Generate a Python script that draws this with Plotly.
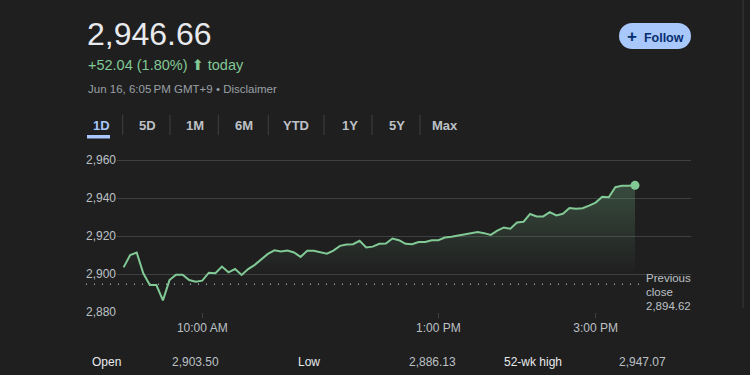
import plotly.graph_objects as go
import pandas as pd

# ---- data ----
prices = [2903.50, 2910.0, 2911.3, 2900.4, 2894.2, 2894.2, 2886.13, 2896.8, 2899.6, 2899.6,
          2896.8, 2895.9, 2896.5, 2900.7, 2900.4, 2903.9, 2900.9, 2902.6, 2899.5, 2902.6,
          2904.8, 2907.8, 2910.6, 2912.5, 2911.8, 2912.3, 2911.3, 2909.0, 2912.2, 2912.2,
          2911.6, 2910.7, 2912.3, 2914.8, 2915.5, 2915.7, 2917.5, 2914.0, 2914.4, 2915.9,
          2916.0, 2918.7, 2917.8, 2915.9, 2915.7, 2916.8, 2916.8, 2917.8, 2917.8, 2919.2,
          2919.6, 2920.3, 2921.0, 2921.3, 2922.1, 2921.5, 2920.6, 2922.8, 2924.5, 2923.8,
          2927.1, 2927.5, 2931.6, 2930.3, 2930.3, 2932.6, 2930.8, 2931.7, 2934.7, 2934.4,
          2934.6, 2936.0, 2937.6, 2940.7, 2940.4, 2945.7, 2946.4, 2946.4, 2946.66]
times = pd.date_range("2024-06-16 09:00", periods=len(prices), freq="5min")
previous_close = 2894.62
y_ticks = [2880, 2900, 2920, 2940, 2960]
x_tick_times = ["2024-06-16 10:00", "2024-06-16 13:00", "2024-06-16 15:00"]
x_tick_labels = ["10:00 AM", "1:00 PM", "3:00 PM"]
tabs = ["1D", "5D", "1M", "6M", "YTD", "1Y", "5Y", "Max"]
stats_labels = ["Open", "Low", "52-wk high"]
stats_values = ["2,903.50", "2,886.13", "2,947.07"]

BG = "#1f1f1f"
GREEN = "#81c995"
GRID = "#3c4043"
FONT = "Liberation Sans, Arial, sans-serif"

L, R, T, B = 117, 59, 150, 63
PW, PH = 750 - L - R, 375 - T - B


def px(x):
    return (x - L) / PW


def py(y):
    return (375 - B - y) / PH


fig = go.Figure()
fig.add_trace(go.Scatter(
    x=times, y=prices, mode="lines", line=dict(color=GREEN, width=2),
    fill="tozeroy",
    fillgradient=dict(type="vertical", start=2900, stop=2947,
                      colorscale=[[0, "rgba(129,201,149,0)"], [1, "rgba(129,201,149,0.26)"]]),
    hoverinfo="skip", showlegend=False))
fig.add_trace(go.Scatter(
    x=[times[-1]], y=[prices[-1]], mode="markers",
    marker=dict(color=GREEN, size=9), hoverinfo="skip", showlegend=False))

shapes = []
annotations = []

# previous close dotted line
shapes.append(dict(type="line", xref="paper", yref="y", x0=px(86), x1=px(640),
                   y0=previous_close, y1=previous_close,
                   line=dict(color="#9aa0a6", width=1.5, dash="1px,7px")))
for i, t in enumerate(["Previous", "close", f"{previous_close:,.2f}"]):
    annotations.append(dict(xref="paper", yref="paper", x=px(644), y=py(278 + 14 * i),
                            xanchor="left", yanchor="middle", showarrow=False, text=t,
                            font=dict(family=FONT, size=11.5, color="#bdc1c6")))

# header
annotations.append(dict(xref="paper", yref="paper", x=px(85), y=py(34), xanchor="left",
                        yanchor="middle", showarrow=False, text="2,946.66",
                        font=dict(family=FONT, size=32, color="#e8eaed")))
annotations.append(dict(xref="paper", yref="paper", x=px(86), y=py(65), xanchor="left",
                        yanchor="middle", showarrow=False,
                        text="+52.04 (1.80%) <span style='font-family:DejaVu Sans'>⬆</span> today",
                        font=dict(family=FONT, size=14.5, color=GREEN)))
annotations.append(dict(xref="paper", yref="paper", x=px(86), y=py(89), xanchor="left",
                        yanchor="middle", showarrow=False,
                        text="Jun 16, 6:05\u202fPM GMT+9 • Disclaimer",
                        font=dict(family=FONT, size=11.5, color="#9aa0a6")))

# follow button
bx0, bx1, by0, by1 = 619, 691, 23, 49
r = (by1 - by0) / 2
shapes.append(dict(type="rect", xref="paper", yref="paper", x0=px(bx0 + r), x1=px(bx1 - r),
                   y0=py(by1), y1=py(by0), fillcolor="#a8c7fa", line=dict(width=0)))
for cx in (bx0 + r, bx1 - r):
    shapes.append(dict(type="circle", xref="paper", yref="paper", x0=px(cx - r), x1=px(cx + r),
                       y0=py(by1), y1=py(by0), fillcolor="#a8c7fa", line=dict(width=0)))
annotations.append(dict(xref="paper", yref="paper", x=px(655), y=py(36.5), xanchor="center",
                        yanchor="middle", showarrow=False,
                        text="<span style='font-size:17px'>+</span>  Follow",
                        font=dict(family=FONT, size=12.5, color="#062e6f", weight="bold")))

# tabs
tab_x = [101.7, 147.7, 195, 244.3, 296, 350, 397, 445]
sep_x = [122.7, 170, 218.3, 268.3, 324, 372, 420]
for name, x in zip(tabs, tab_x):
    annotations.append(dict(xref="paper", yref="paper", x=px(x), y=py(125), xanchor="center",
                            yanchor="middle", showarrow=False, text=name,
                            font=dict(family=FONT, size=13, weight="bold",
                                      color="#a8c7fa" if name == "1D" else "#bdc1c6")))
for x in sep_x:
    shapes.append(dict(type="line", xref="paper", yref="paper", x0=px(x), x1=px(x),
                       y0=py(135), y1=py(115), line=dict(color=GRID, width=1)))
shapes.append(dict(type="rect", xref="paper", yref="paper", x0=px(87), x1=px(110),
                   y0=py(138.5), y1=py(135), fillcolor="#a8c7fa", line=dict(width=0)))

# stats row
for lab, lx, val, vx in zip(stats_labels, [89.5, 296, 502], stats_values, [170, 407, 617]):
    annotations.append(dict(xref="paper", yref="paper", x=px(lx), y=py(362), xanchor="left",
                            yanchor="middle", showarrow=False, text=lab,
                            font=dict(family=FONT, size=12, color="#e8eaed")))
    annotations.append(dict(xref="paper", yref="paper", x=px(vx), y=py(362), xanchor="left",
                            yanchor="middle", showarrow=False, text=val,
                            font=dict(family=FONT, size=12, color="#bdc1c6")))

# scrollbar edge
shapes.append(dict(type="line", xref="paper", yref="paper", x0=px(743), x1=px(743),
                   y0=py(308), y1=py(0), line=dict(color="#2b2b2b", width=2)))

x_start = pd.Timestamp("2024-06-16 09:00") - pd.Timedelta(minutes=5.03)
x_end = pd.Timestamp("2024-06-16 09:00") + pd.Timedelta(minutes=432.7)

fig.update_layout(
    width=750, height=375, autosize=False,
    margin=dict(l=L, r=R, t=T, b=B),
    paper_bgcolor=BG, plot_bgcolor=BG,
    font=dict(family=FONT, color="#bdc1c6", size=12),
    shapes=shapes, annotations=annotations,
    xaxis=dict(range=[x_start, x_end], showgrid=False, zeroline=False, showline=False,
               tickvals=x_tick_times, ticktext=x_tick_labels, ticks="outside", ticklen=5,
               tickcolor=GRID, tickfont=dict(size=12, color="#bdc1c6")),
    yaxis=dict(range=[2880, 2880 + PH / 1.9], tickvals=y_ticks, tickformat=",",
               showgrid=True, gridcolor=GRID, gridwidth=1, zeroline=False, showline=False,
               ticks="", tickfont=dict(size=12, color="#bdc1c6")),
)

fig.write_html("out.html", config={"displayModeBar": False},
               post_script="document.body.style.margin='0';document.body.style.background='#1f1f1f';")
